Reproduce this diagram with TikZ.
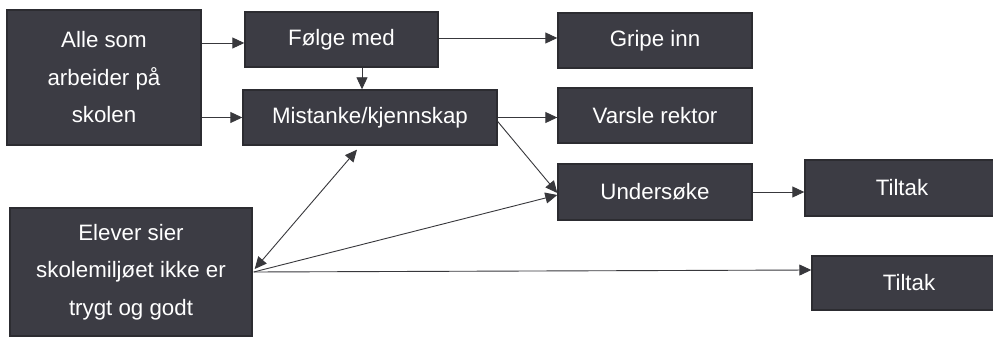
\documentclass[tikz,border=0pt]{standalone}
\usepackage{fontspec}
\setmainfont{Liberation Sans}
\usetikzlibrary{arrows.meta}
\definecolor{boxfill}{HTML}{3C3C44}
\definecolor{boxline}{HTML}{2C2C31}
\definecolor{arrline}{HTML}{38383C}
\begin{document}
\begin{tikzpicture}[x=1pt,y=-1pt,
  box/.style={draw=boxline, fill=boxfill, line width=1.4pt, text=white,
    inner sep=0pt, align=center, font=\fontsize{22.3}{37.5}\selectfont},
  conn/.style={draw=arrline, line width=0.9pt,
    -{Triangle[length=12pt,width=11pt]}},
  bconn/.style={draw=arrline, line width=0.9pt,
    {Triangle[length=12pt,width=11pt]}-{Triangle[length=12pt,width=11pt]}}]
\useasboundingbox (0,0) rectangle (993,339);
\clip (0,0) rectangle (993,339);
\fill[white] (0,0) rectangle (993,339);
% boxes
\node[box, minimum width=194pt, minimum height=135pt] (alle) at (104,77.5) {Alle som\\arbeider på\\skolen};
\node[box, minimum width=193pt, minimum height=55pt] (folge) at (341.5,39.5) {Følge med};
\node[box, minimum width=254pt, minimum height=55pt] (mist) at (370,117.5) {Mistanke/kjennskap};
\node[box, minimum width=194pt, minimum height=55pt] (gripe) at (655,40.5) {Gripe inn};
\node[box, minimum width=194pt, minimum height=55pt] (varsle) at (655,115.5) {Varsle rektor};
\node[box, minimum width=194pt, minimum height=56pt] (under) at (655,192) {Undersøke};
\node[box, minimum width=194pt, minimum height=56pt] (tiltakA) at (902,188) {Tiltak};
\node[box, minimum width=194pt, minimum height=54pt] (tiltakB) at (909,283) {Tiltak};
\node[box, minimum width=242pt, minimum height=128pt] (elever) at (131,272) {Elever sier\\skolemiljøet ikke er\\trygt og godt};
% connectors
\draw[conn] ([yshift=-3.5pt]alle.east |- folge.west) -- ([yshift=-3.5pt]folge.west);
\draw[conn] (alle.east |- mist.west) -- (mist.west);
\draw[conn] ([xshift=20.5pt]folge.south) -- ([xshift=20.5pt]folge.south |- mist.north);
\draw[conn] ([yshift=1.5pt]folge.east) -- ([yshift=1.5pt]gripe.west |- folge.east);
\draw[conn] (mist.east) -- (varsle.west |- mist.east);
\draw[conn] ([yshift=-4pt]mist.east) -- ([yshift=-1pt]under.west);
\draw[conn] (under.east) -- (tiltakA.west |- under.east);
\draw[bconn] ([xshift=2pt,yshift=3pt]elever.east) -- ([xshift=-13pt,yshift=-4pt]mist.south);
\draw[conn] ([xshift=1pt]elever.east) -- ([yshift=-3pt]under.west);
\draw[conn] ([xshift=1pt]elever.east) -- ([yshift=13pt]tiltakB.west);
\end{tikzpicture}
\end{document}
